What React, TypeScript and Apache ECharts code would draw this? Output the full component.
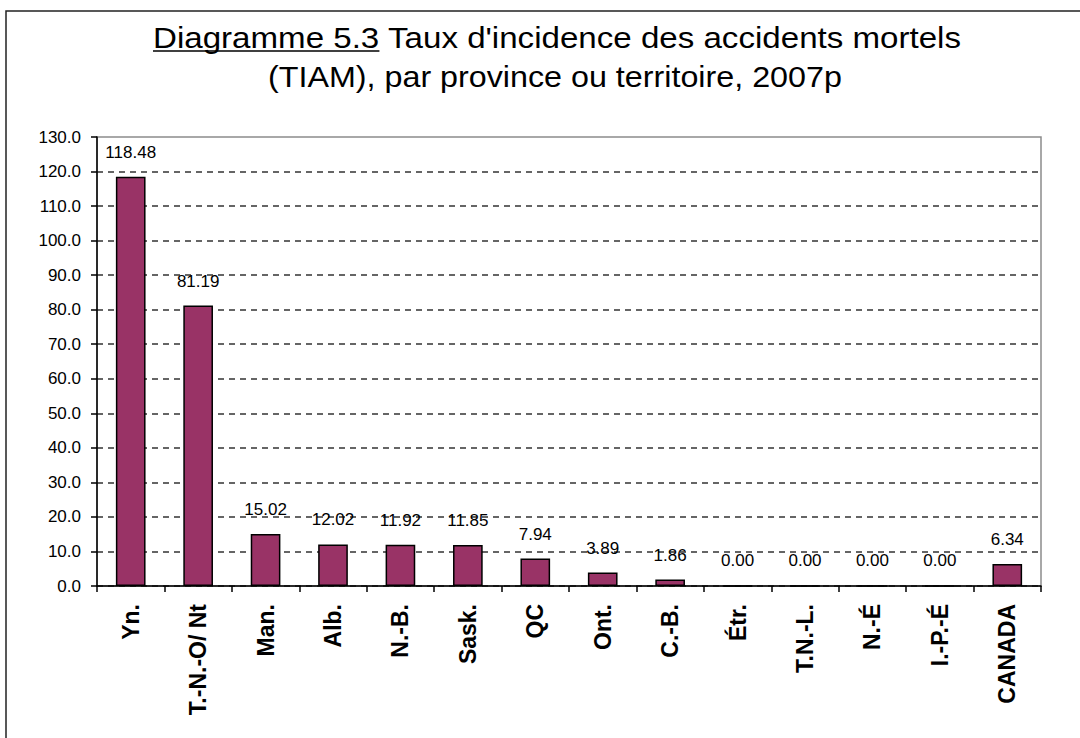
import React, { useEffect, useRef } from "react";
import * as echarts from "echarts";

const categories = [
  "Yn.",
  "T.-N.-O/ Nt",
  "Man.",
  "Alb.",
  "N.-B.",
  "Sask.",
  "QC",
  "Ont.",
  "C.-B.",
  "Étr.",
  "T.N.-L.",
  "N.-É",
  "I.-P.-É",
  "CANADA",
];
const values = [118.48, 81.19, 15.02, 12.02, 11.92, 11.85, 7.94, 3.89, 1.86, 0.0, 0.0, 0.0, 0.0, 6.34];
const titleUnderlined = "Diagramme 5.3";
const titleRest = " Taux d'incidence des accidents mortels";
const titleLine2 = "(TIAM), par province ou territoire, 2007p";

const FONT = '"Liberation Sans", Arial, sans-serif';

export default function App() {
  const ref = useRef<HTMLDivElement>(null);
  useEffect(() => {
    document.body.style.margin = "0";
    if (!ref.current) return;
    const chart = echarts.init(ref.current, null, { renderer: "svg" });

    const titleSize = 29;
    const canvas = document.createElement("canvas");
    const ctx = canvas.getContext("2d")!;
    ctx.font = `${titleSize}px "Liberation Sans"`;
    const wA = ctx.measureText(titleUnderlined).width;
    const wFull = ctx.measureText(titleUnderlined + titleRest).width;
    const w2 = ctx.measureText(titleLine2).width;
    const line1Left = 153;
    const line1Width = 809;
    const line2Left = 268;
    const line2Width = 574;
    const s1 = line1Width / wFull;
    const s2 = line2Width / w2;
    const y1 = 38;
    const y2 = 77;

    chart.setOption({
      animation: false,
      backgroundColor: "#ffffff",
      grid: {
        left: 97,
        right: 39,
        top: 137,
        bottom: 152,
        show: true,
        borderColor: "#8c8c8c",
        borderWidth: 1.5,
        containLabel: false,
      },
      graphic: [
        {
          type: "rect",
          shape: { x: 6, y: 11, width: 1200, height: 1000 },
          style: { fill: "none", stroke: "#222", lineWidth: 1.5 },
          silent: true,
        },
        {
          type: "text",
          x: line1Left,
          y: y1,
          scaleX: s1,
          style: {
            text: titleUnderlined,
            font: `${titleSize}px ${FONT}`,
            fill: "#000",
            textAlign: "left",
            textVerticalAlign: "middle",
          },
        },
        {
          type: "text",
          x: line1Left + wA * s1,
          y: y1,
          scaleX: s1,
          style: {
            text: titleRest,
            font: `${titleSize}px ${FONT}`,
            fill: "#000",
            textAlign: "left",
            textVerticalAlign: "middle",
          },
        },
        {
          type: "line",
          shape: { x1: line1Left, y1: 51, x2: line1Left + wA * s1, y2: 51 },
          style: { stroke: "#000", lineWidth: 1.5 },
        },
        {
          type: "text",
          x: line2Left,
          y: y2,
          scaleX: s2,
          style: {
            text: titleLine2,
            font: `${titleSize}px ${FONT}`,
            fill: "#000",
            textAlign: "left",
            textVerticalAlign: "middle",
          },
        },
      ],
      xAxis: {
        type: "category",
        data: categories,
        axisLine: { show: true, lineStyle: { color: "#000", width: 1.5 } },
        axisTick: { show: true, length: 6, interval: 0, lineStyle: { color: "#000", width: 1.5 } },
        axisLabel: {
          interval: 0,
          rotate: 90,
          margin: 18,
          color: "#000",
          fontFamily: FONT,
          fontWeight: "bold",
          fontSize: 23,
        },
        splitLine: { show: false },
      },
      yAxis: {
        type: "value",
        min: 0,
        max: 130,
        interval: 10,
        axisLine: { show: true, lineStyle: { color: "#000", width: 1.5 } },
        axisTick: { show: true, length: 6, lineStyle: { color: "#000", width: 1.5 } },
        axisLabel: {
          margin: 16,
          color: "#000",
          fontFamily: FONT,
          fontSize: 17,
          formatter: (v: number) => v.toFixed(1),
        },
        splitLine: {
          show: true,
          showMaxLine: false,
          lineStyle: { color: "#333", width: 1.5, type: [6, 5] },
        },
      },
      series: [
        {
          type: "bar",
          data: values,
          barWidth: "44%",
          itemStyle: { color: "#993366", borderColor: "#000", borderWidth: 1.5 },
          label: {
            show: true,
            position: "top",
            distance: 16,
            color: "#000",
            fontFamily: FONT,
            fontSize: 17,
            formatter: (p: any) => Number(p.value).toFixed(2),
          },
        },
      ],
    });
    return () => chart.dispose();
  }, []);
  return <div ref={ref} style={{ width: 1080, height: 738 }} />;
}
